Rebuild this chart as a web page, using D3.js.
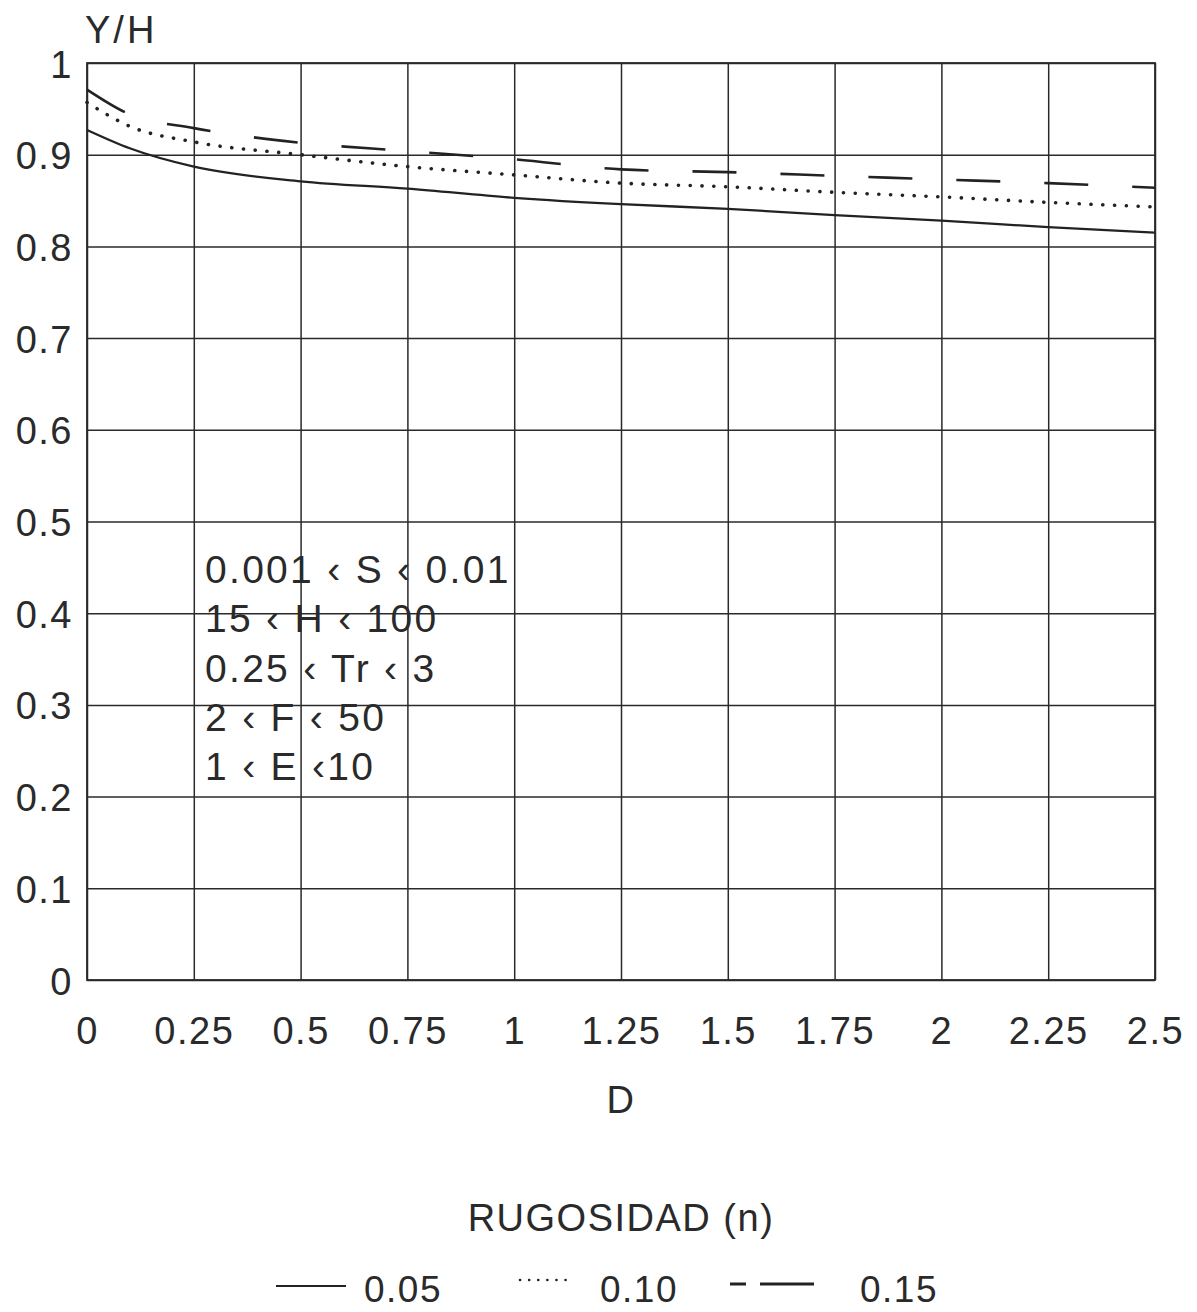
<!DOCTYPE html>
<html><head><meta charset="utf-8">
<script src="https://cdn.jsdelivr.net/npm/d3@7"></script>
<style>body{margin:0;background:#fff}svg{display:block}text{font-family:"Liberation Sans",Arial,sans-serif;fill:#2a2a2a;letter-spacing:1.5px}</style>
</head><body>
<script>
const dVals = [0, 0.1, 0.25, 0.5, 0.75, 1, 1.25, 1.5, 1.75, 2, 2.25, 2.5];
const n005 = [0.927, 0.907, 0.887, 0.871, 0.863, 0.853, 0.846, 0.841, 0.834, 0.828, 0.821, 0.815];
const n010 = [0.957, 0.931, 0.914, 0.900, 0.887, 0.878, 0.869, 0.865, 0.859, 0.854, 0.848, 0.843];
const n015 = [0.971, 0.944, 0.929, 0.913, 0.904, 0.895, 0.884, 0.881, 0.877, 0.873, 0.869, 0.864];
const xTicks = [0, 0.25, 0.5, 0.75, 1, 1.25, 1.5, 1.75, 2, 2.25, 2.5];
const xTickLabels = ["0","0.25","0.5","0.75","1","1.25","1.5","1.75","2","2.25","2.5"];
const yTicks = [0, 0.1, 0.2, 0.3, 0.4, 0.5, 0.6, 0.7, 0.8, 0.9, 1];
const yTickLabels = ["0","0.1","0.2","0.3","0.4","0.5","0.6","0.7","0.8","0.9","1"];
const seriesNames = ["0.05", "0.10", "0.15"];
const notes = ["0.001 ‹ S ‹ 0.01", "15 ‹ H ‹ 100", "0.25 ‹ Tr ‹ 3", "2 ‹ F ‹ 50", "1 ‹ E ‹10"];

const W = 1197, H = 1312;
const FS = "38px";
const svg = d3.select("body").append("svg").attr("width", W).attr("height", H);
const x = d3.scaleLinear().domain([0, 2.5]).range([87, 1155]);
const y = d3.scaleLinear().domain([0, 1]).range([980, 63]);
const stroke = "#2a2a2a";

// grid via axes
const gx = svg.append("g").attr("transform", `translate(0,${y(0)})`)
  .call(d3.axisBottom(x).tickValues(xTicks).tickSize(-(y(0) - y(1))).tickFormat((d, i) => xTickLabels[i]));
gx.select(".domain").remove();
gx.selectAll("line").attr("stroke", stroke).attr("stroke-width", 1.5);
gx.selectAll("text").attr("dy", null).attr("y", 64).style("font-size", FS).attr("fill", "#2a2a2a");

const gy = svg.append("g").attr("transform", `translate(${x(0)},0)`)
  .call(d3.axisLeft(y).tickValues(yTicks).tickSize(-(x(2.5) - x(0))).tickFormat((d, i) => yTickLabels[i]));
gy.select(".domain").remove();
gy.selectAll("line").attr("stroke", stroke).attr("stroke-width", 1.5);
gy.selectAll("text").attr("x", -14).attr("dy", "0.37em").style("font-size", FS).attr("fill", "#2a2a2a");

svg.append("rect").attr("x", x(0)).attr("y", y(1)).attr("width", x(2.5) - x(0)).attr("height", y(0) - y(1))
  .attr("fill", "none").attr("stroke", stroke).attr("stroke-width", 1.8);

// curves
const line = d3.line().x((d, i) => x(dVals[i])).y(d => y(d)).curve(d3.curveMonotoneX);
const styles = [
  {data: n005, dash: null, w: 2.3, cap: "butt"},
  {data: n010, dash: "0.1,11.7", w: 3.6, cap: "round"},
  {data: n015, dash: "44,44", w: 2.6, cap: "butt"}
];
styles.forEach(s => {
  svg.append("path").attr("d", line(s.data)).attr("fill", "none").attr("stroke", "#222")
    .attr("stroke-width", s.w).attr("stroke-dasharray", s.dash).attr("stroke-linecap", s.cap);
});

// axis titles
svg.append("text").attr("x", 85).attr("y", 43).style("font-size", FS).style("letter-spacing", "3px").text("Y/H");
svg.append("text").attr("x", 621).attr("y", 1113).attr("text-anchor", "middle").style("font-size", FS).text("D");

// notes
notes.forEach((t, i) => {
  svg.append("text").attr("x", 205).attr("y", 583 + i * 49.3).style("font-size", "39px").style("letter-spacing", "2.3px").text(t);
});

// legend
svg.append("text").attr("x", 621).attr("y", 1231).attr("text-anchor", "middle").style("font-size", FS).text("RUGOSIDAD (n)");
const ly = 1288;
svg.append("line").attr("x1", 276).attr("x2", 346).attr("y1", ly - 2).attr("y2", ly - 2).attr("stroke", "#222").attr("stroke-width", 2.2);
svg.append("text").attr("x", 364).attr("y", ly + 14).style("font-size", "37px").text(seriesNames[0]);
svg.append("line").attr("x1", 520).attr("x2", 572).attr("y1", ly - 8).attr("y2", ly - 8).attr("stroke", "#222")
  .attr("stroke-width", 2.6).attr("stroke-dasharray", "0.1,9").attr("stroke-linecap", "round");
svg.append("text").attr("x", 600).attr("y", ly + 14).style("font-size", "37px").text(seriesNames[1]);
svg.append("line").attr("x1", 730).attr("x2", 814).attr("y1", ly - 4).attr("y2", ly - 4).attr("stroke", "#222")
  .attr("stroke-width", 2.8).attr("stroke-dasharray", "16,14,54");
svg.append("text").attr("x", 860).attr("y", ly + 14).style("font-size", "37px").text(seriesNames[2]);
</script>
</body></html>
